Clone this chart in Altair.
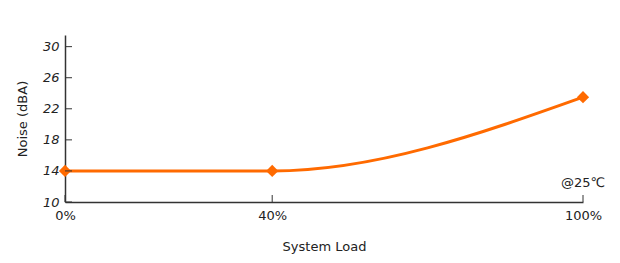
import altair as alt
import pandas as pd

load = [0, 40, 100]
noise = [14, 14, 23.5]
y_ticks = [10, 14, 18, 22, 26, 30]
x_ticks = [0, 40, 100]
note = "@25℃"

df = pd.DataFrame({"load": load, "noise": noise})
yt = pd.DataFrame({"load": x_ticks[:1] * len(y_ticks), "noise": y_ticks})
xt = pd.DataFrame({"load": x_ticks, "noise": [10] * len(x_ticks)})

COLOR = "#ff6a00"
FONT = "DejaVu Sans"

xscale = alt.Scale(domain=[0, 100], nice=False, zero=False)
yscale = alt.Scale(domain=[10, 31.5], nice=False, zero=False)
xaxis = alt.Axis(values=x_ticks, labelExpr="datum.value + '%'", title="System Load",
                 ticks=False, grid=False, labelFontSize=13, labelPadding=7,
                 titleFontSize=13, titleFontWeight="normal", titlePadding=18,
                 labelFlush=False)
yaxis = alt.Axis(values=y_ticks, title="Noise (dBA)", ticks=False, grid=False,
                 labelFontSize=13, labelFontStyle="italic", labelPadding=6,
                 titleFontSize=13, titleFontWeight="normal", titlePadding=13)
X = alt.X("load:Q", scale=xscale, axis=xaxis)
Y = alt.Y("noise:Q", scale=yscale, axis=yaxis)

line = alt.Chart(df).mark_line(interpolate="monotone", color=COLOR, strokeWidth=3).encode(x=X, y=Y)
pts = alt.Chart(df).mark_point(shape="diamond", filled=True, color=COLOR, size=150, opacity=1).encode(x=X, y=Y)
ytick_marks = alt.Chart(yt).mark_rule(color="#333", strokeWidth=1).encode(
    x=alt.value(0), x2=alt.value(7), y=Y
)
xtick_marks = alt.Chart(xt).mark_rule(color="#333", strokeWidth=1).encode(
    y=alt.value(167), y2=alt.value(160), x=X
)
txt = alt.Chart(pd.DataFrame({"t": [note]})).mark_text(
    fontSize=13, font=FONT, color="#222", align="center", baseline="middle"
).encode(x=alt.value(518), y=alt.value(148), text="t:N")

chart = alt.layer(line, pts, ytick_marks, xtick_marks, txt).properties(
    width=518, height=167,
    autosize=alt.AutoSizeParams(type="none"),
    padding={"left": 65, "top": 35, "right": 37, "bottom": 61},
    background="white",
).configure_view(stroke=None).configure_axis(
    domainColor="#333", domainWidth=1.5, labelColor="#222", titleColor="#222",
    labelFont=FONT, titleFont=FONT
)

chart.save("out.html", embed_options={"renderer": "svg", "actions": False})
